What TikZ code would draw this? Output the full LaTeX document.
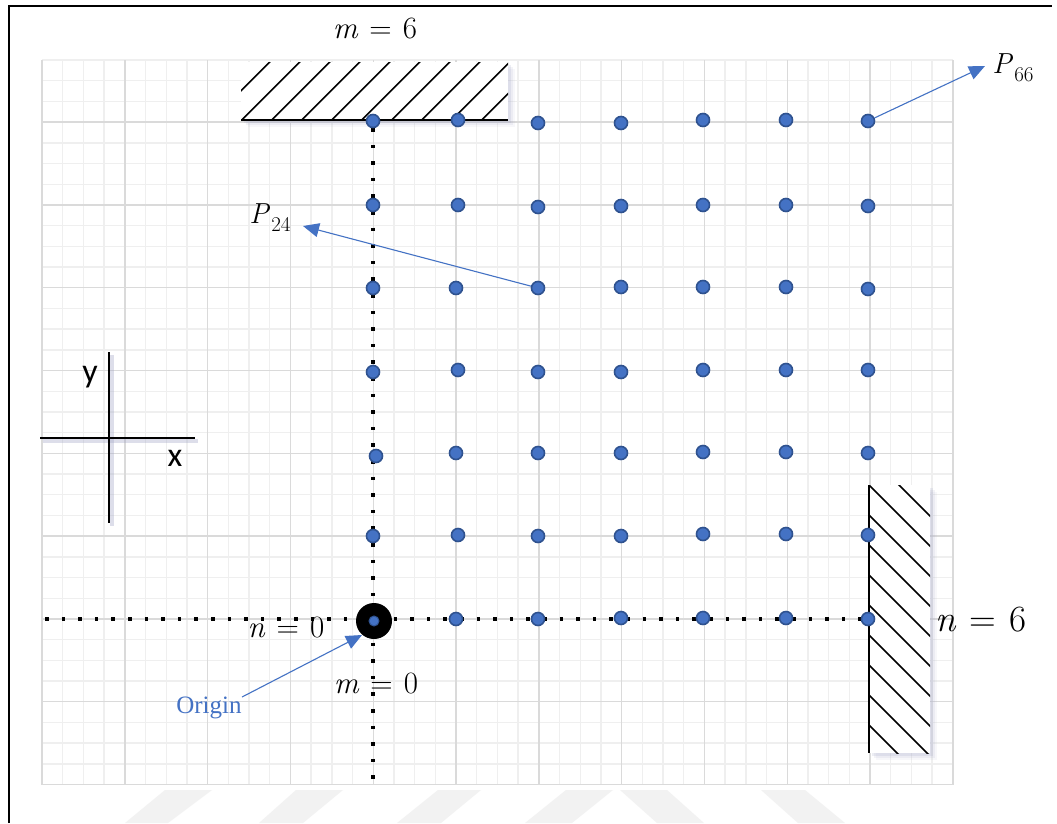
\documentclass[tikz,border=0pt]{standalone}
\usepackage{fontspec}
\newfontfamily\calib{Carlito}
\newfontfamily\tnr{Liberation Serif}
\usetikzlibrary{arrows.meta}
\definecolor{dotblue}{HTML}{4472C4}
\definecolor{dotedge}{HTML}{2F528F}
\definecolor{minorgrid}{HTML}{EFEFEF}
\definecolor{majorgrid}{HTML}{DADADA}
\definecolor{wm}{HTML}{F2F2F2}
\definecolor{shadowc}{HTML}{9EA3C4}
\newcommand\eqlab[2]{\textit{#1}\hspace{0.36em}=\hspace{0.36em}#2}
\newcommand\plab[2]{\textit{#1}\hspace{0.04em}\raisebox{-0.28em}{\fontsize{21}{23}\selectfont #2}}
\begin{document}
\begin{tikzpicture}[x=1pt,y=-1pt,
  pt/.style={circle,fill=dotblue,draw=dotedge,line width=1.6pt,minimum size=13pt,inner sep=0pt},
  callout/.style={draw=dotblue,line width=1.1pt,-{Triangle[length=16pt,width=14pt,fill=dotblue]}},
  hatchline/.style={line width=1.6pt,black},
  mlabel/.style={inner sep=0pt,font=\fontsize{31}{34}\selectfont},
  axisline/.style={line width=2.4pt,black},
  dotline/.style={line width=3.6pt,dash pattern=on 3.6pt off 13pt,black},
  edgeline/.style={line width=2.6pt,black}
]
\useasboundingbox (0,0) rectangle (1057,823);
\fill[white] (0,0) rectangle (1057,823);
% watermark
\fill[wm] (125,823) -- (168,823) -- (212,790) -- (165,790) -- cycle;
\fill[wm] (259,823) -- (303,823) -- (343,790) -- (296,790) -- cycle;
\fill[wm] (397,823) -- (441,823) -- (481,790) -- (438,790) -- cycle;
\fill[wm] (525,823) -- (572,823) -- (613,790) -- (566,790) -- cycle;
\fill[wm] (657,823) -- (704,823) -- (667,790) -- (620,790) -- cycle;
\fill[wm] (798,823) -- (845,823) -- (805,790) -- (761,790) -- cycle;
% grid
\foreach \i in {0,...,44} \draw[minorgrid,line width=1.4pt] ({42+\i*20.7},60) -- ({42+\i*20.7},785);
\foreach \j in {0,...,35} \draw[minorgrid,line width=1.4pt] (42,{60+\j*20.7}) -- (953,{60+\j*20.7});
\foreach \i in {0,...,11} \draw[majorgrid,line width=1.4pt] ({42+\i*82.8},60) -- ({42+\i*82.8},785);
\foreach \j in {0,...,8} \draw[majorgrid,line width=1.4pt] (42,{122.1+\j*82.8}) -- (953,{122.1+\j*82.8});
% frame
\draw[line width=2.4pt] (9,823) -- (9,6) -- (1052,6);
% axes symbol
\coordinate (axl) at (40,438); \coordinate (axr) at (195,438);
\coordinate (ayt) at (109,352); \coordinate (ayb) at (109,523);
\draw[shadowc,opacity=0.35,line width=4pt] ([shift={(3,3)}]axl) -- ([shift={(3,3)}]axr);
\draw[shadowc,opacity=0.35,line width=4pt] ([shift={(3,3)}]ayt) -- ([shift={(3,3)}]ayb);
\draw[axisline] (axl) -- (axr);
\draw[axisline] (ayt) -- (ayb);
\node[font=\calib\fontsize{34}{38}\selectfont,inner sep=0pt] (ylab) at (90,377) {y};
\node[font=\calib\fontsize{34}{38}\selectfont,inner sep=0pt] (xlab) at (175,458) {x};
% dotted lines
\coordinate (hl) at (45,619); \coordinate (hr) at (862,619);
\coordinate (vt) at (373,128); \coordinate (vb) at (373,788);
\draw[dotline] (hl) -- (hr);
\draw[dotline] (vt) -- (vb);
% top hatched box
\foreach \o/\op in {7/0.08,5/0.12,3/0.18} \fill[shadowc,opacity=\op] (241+\o,62+\o) rectangle (508+\o,120+\o);
\fill[white] (241,62) rectangle (508,120);
\begin{scope}
\clip (241,62) rectangle (508,120);
\foreach \k in {-2,...,9} \draw[hatchline] ({241.7+30*\k},120) -- ++(70,-70);
\end{scope}
\draw[edgeline] (241,120) -- (508,120);
% right hatched box
\foreach \o/\op in {7/0.08,5/0.12,3/0.18} \fill[shadowc,opacity=\op] (869+\o,485+\o) rectangle (930+\o,753+\o);
\fill[white] (869,485) rectangle (930,753);
\begin{scope}
\clip (869,485) rectangle (930,753);
\foreach \k in {0,...,10} \draw[hatchline] (869,{455+30*\k}) -- ++(70,70);
\end{scope}
\draw[edgeline] (869,485) -- (869,753);
% origin ring
\node[circle,fill=black,minimum size=36pt,inner sep=0pt] (ring) at (374,621) {};
% dots
\node[pt] (p06) at (373,121) {}; \node[pt] (p16) at (458,120) {}; \node[pt] (p26) at (538,123) {};
\node[pt] (p36) at (621,123) {}; \node[pt] (p46) at (703,120) {}; \node[pt] (p56) at (786,120) {};
\node[pt] (p66) at (868,121) {};
\node[pt] (p05) at (373,205) {}; \node[pt] (p15) at (458,205) {}; \node[pt] (p25) at (538,207) {};
\node[pt] (p35) at (621,206) {}; \node[pt] (p45) at (703,205) {}; \node[pt] (p55) at (786,205) {};
\node[pt] (p65) at (868,206) {};
\node[pt] (p04) at (373,288) {}; \node[pt] (p14) at (456,288) {}; \node[pt] (p24) at (538,288) {};
\node[pt] (p34) at (621,287) {}; \node[pt] (p44) at (703,287) {}; \node[pt] (p54) at (786,287) {};
\node[pt] (p64) at (868,289) {};
\node[pt] (p03) at (373,372) {}; \node[pt] (p13) at (458,370) {}; \node[pt] (p23) at (538,372) {};
\node[pt] (p33) at (621,372) {}; \node[pt] (p43) at (703,370) {}; \node[pt] (p53) at (786,370) {};
\node[pt] (p63) at (868,370) {};
\node[pt] (p02) at (376,456) {}; \node[pt] (p12) at (456,453) {}; \node[pt] (p22) at (538,453) {};
\node[pt] (p32) at (621,453) {}; \node[pt] (p42) at (703,452) {}; \node[pt] (p52) at (786,452) {};
\node[pt] (p62) at (868,453) {};
\node[pt] (p01) at (373,536) {}; \node[pt] (p11) at (458,535) {}; \node[pt] (p21) at (538,536) {};
\node[pt] (p31) at (621,536) {}; \node[pt] (p41) at (703,534) {}; \node[pt] (p51) at (786,534) {};
\node[pt] (p61) at (868,535) {};
\node[pt,minimum size=10pt,line width=1pt] (p00) at (374,621) {}; \node[pt] (p10) at (456,619) {}; \node[pt] (p20) at (538,619) {};
\node[pt] (p30) at (621,618) {}; \node[pt] (p40) at (703,618) {}; \node[pt] (p50) at (786,618) {};
\node[pt] (p60) at (868,619) {};
% labels
\node[mlabel] (lm6) at (375,28) {\eqlab{m}{6}};
\node[mlabel] (ln0) at (286,627) {\eqlab{n}{0}};
\node[mlabel] (lm0) at (376,683) {\eqlab{m}{0}};
\node[inner sep=0pt,font=\fontsize{37}{40}\selectfont] (ln6) at (981,620) {\eqlab{n}{6}};
\node[inner sep=0pt,font=\fontsize{29}{32}\selectfont] (lp24) at (270,218) {\plab{P}{24}};
\node[inner sep=0pt,font=\fontsize{29}{32}\selectfont] (lp66) at (1013,68) {\plab{P}{66}};
\node[inner sep=0pt,text=dotblue,font=\tnr\fontsize{25}{28}\selectfont] (lorig) at (209,708) {Origin};
% callouts
\coordinate (t66) at (985,66);
\coordinate (t24) at (303,226);
\coordinate (tor) at (362,635);
\coordinate (sor) at (242,697);
\draw[callout] (p66) -- (t66);
\draw[callout] (p24) -- (t24);
\draw[callout] (sor) -- (tor);
\end{tikzpicture}
\end{document}
